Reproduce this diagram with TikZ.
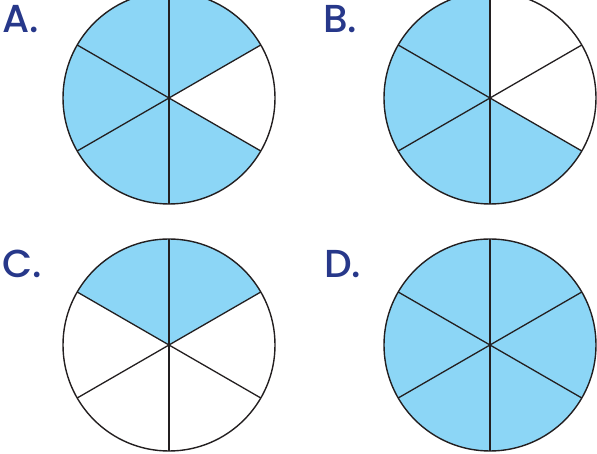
\documentclass[tikz,border=0pt]{standalone}
\usepackage{fontspec}
\setmainfont{Poppins}
\newfontfamily\labelfont{Poppins Medium}
\definecolor{sectorblue}{HTML}{8CD6F6}
\definecolor{labelblue}{HTML}{27388A}
\definecolor{lineblack}{HTML}{231F20}
\begin{document}
\begin{tikzpicture}[x=1pt,y=1pt,
  shade/.style={fill=sectorblue},
  rim/.style={draw=lineblack,line width=1.4pt},
  spoke/.style={draw=lineblack,line width=1.3pt},
  letter/.style={anchor=base west,inner sep=0pt,text=labelblue,font=\labelfont\fontsize{39}{39}\selectfont}]
\useasboundingbox (0,0) rectangle (597,454);
\clip (0,0) rectangle (597,454);
\def\R{106}
\coordinate (cA) at (169,356);
\coordinate (cB) at (490,356);
\coordinate (cC) at (169,109);
\coordinate (cD) at (490,109);
% fills
\fill[shade] (cA) -- ++(30:\R) arc[start angle=30,end angle=330,radius=\R] -- cycle;
\fill[shade] (cB) -- ++(90:\R) arc[start angle=90,end angle=330,radius=\R] -- cycle;
\fill[shade] (cC) -- ++(30:\R) arc[start angle=30,end angle=150,radius=\R] -- cycle;
\fill[shade] (cD) circle[radius=\R];
% spokes and rims
\foreach \c in {cA,cB,cC,cD}{
  \foreach \a in {30,90,150,210,270,330}{
    \draw[spoke] (\c) -- ++(\a:\R);
  }
  \draw[rim] (\c) circle[radius=\R];
}
% labels
\node[letter] (lA) at (2,421) {A.};
\node[letter] (lB) at (323,421) {B.};
\node[letter] (lC) at (2,176) {C.};
\node[letter] (lD) at (324,176) {D.};
\end{tikzpicture}
\end{document}
